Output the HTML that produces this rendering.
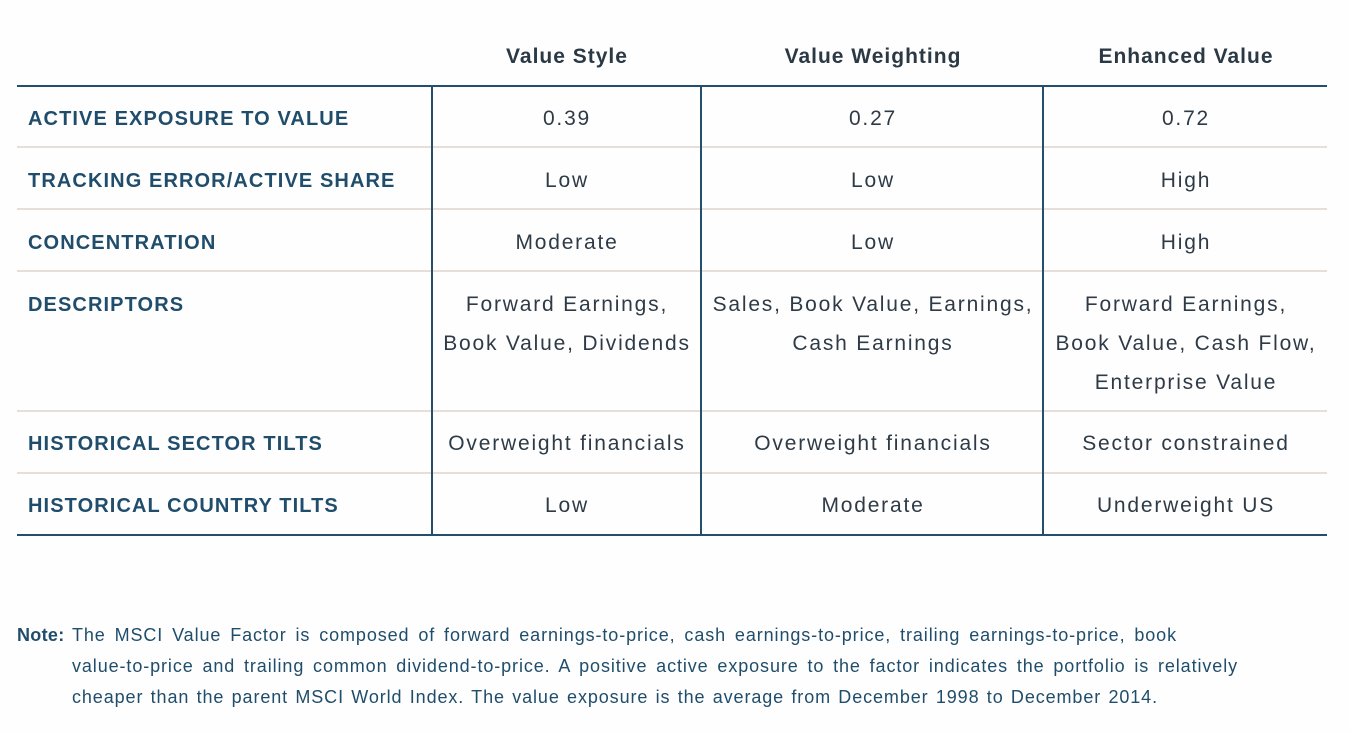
<!DOCTYPE html>
<html><head><meta charset="utf-8">
<style>
html,body{margin:0;padding:0;background:#fefefe;}
body{width:1351px;height:734px;position:relative;overflow:hidden;font-family:"Liberation Sans",Arial,sans-serif;}
.hl{position:absolute;left:17px;width:1310px;height:2px;}
.dark{background:#234f6c;}
.light{background:#e7dfd7;}
.vl{position:absolute;top:86px;height:450px;width:2px;background:#234f6c;}
.lab{position:absolute;left:28px;font-weight:bold;font-size:20px;letter-spacing:1.1px;color:#1f4d6b;line-height:30px;white-space:nowrap;}
.hd{position:absolute;font-weight:bold;font-size:21px;letter-spacing:1px;color:#2b3945;line-height:30px;text-align:center;white-space:nowrap;}
.c{position:absolute;font-size:21px;letter-spacing:1.8px;color:#2e3b47;line-height:39px;text-align:center;white-space:nowrap;}
.c1{left:432px;width:270px;}
.c2{left:702px;width:342px;}
.c3{left:1044px;width:284px;}
.note{position:absolute;font-size:18px;letter-spacing:0.9px;color:#1f4d6b;line-height:31px;white-space:nowrap;text-align:justify;text-align-last:justify;}
</style></head><body>

<div class="hd c1" style="top:42px;">Value Style</div>
<div class="hd c2" style="top:42px;">Value Weighting</div>
<div class="hd c3" style="top:42px;">Enhanced Value</div>

<div class="hl dark" style="top:85px;"></div>
<div class="hl light" style="top:146px;"></div>
<div class="hl light" style="top:208px;"></div>
<div class="hl light" style="top:270px;"></div>
<div class="hl light" style="top:410px;"></div>
<div class="hl light" style="top:472px;"></div>
<div class="hl dark" style="top:534px;"></div>

<div class="vl" style="left:431px;"></div>
<div class="vl" style="left:700px;"></div>
<div class="vl" style="left:1042px;"></div>

<div class="lab" style="top:104px;">ACTIVE EXPOSURE TO VALUE</div>
<div class="lab" style="top:166px;">TRACKING ERROR/ACTIVE SHARE</div>
<div class="lab" style="top:228px;">CONCENTRATION</div>
<div class="lab" style="top:290px;">DESCRIPTORS</div>
<div class="lab" style="top:429px;">HISTORICAL SECTOR TILTS</div>
<div class="lab" style="top:491px;">HISTORICAL COUNTRY TILTS</div>

<div class="c c1" style="top:99px;">0.39</div>
<div class="c c2" style="top:99px;">0.27</div>
<div class="c c3" style="top:99px;">0.72</div>

<div class="c c1" style="top:161px;">Low</div>
<div class="c c2" style="top:161px;">Low</div>
<div class="c c3" style="top:161px;">High</div>

<div class="c c1" style="top:223px;">Moderate</div>
<div class="c c2" style="top:223px;">Low</div>
<div class="c c3" style="top:223px;">High</div>

<div class="c c1" style="top:285px;">Forward Earnings,<br>Book Value, Dividends</div>
<div class="c c2" style="top:285px;">Sales, Book Value, Earnings,<br>Cash Earnings</div>
<div class="c c3" style="top:285px;">Forward Earnings,<br>Book Value, Cash Flow,<br>Enterprise Value</div>

<div class="c c1" style="top:424px;">Overweight financials</div>
<div class="c c2" style="top:424px;">Overweight financials</div>
<div class="c c3" style="top:424px;">Sector constrained</div>

<div class="c c1" style="top:486px;">Low</div>
<div class="c c2" style="top:486px;">Moderate</div>
<div class="c c3" style="top:486px;">Underweight US</div>

<div class="note" style="left:17px;top:620px;font-weight:bold;letter-spacing:0.3px;text-align:left;text-align-last:left;">Note:</div>
<div class="note" style="left:72px;top:620px;width:1105px;">The MSCI Value Factor is composed of forward earnings-to-price, cash earnings-to-price, trailing earnings-to-price, book</div>
<div class="note" style="left:72px;top:651px;width:1166px;">value-to-price and trailing common dividend-to-price. A positive active exposure to the factor indicates the portfolio is relatively</div>
<div class="note" style="left:72px;top:682px;width:1086px;">cheaper than the parent MSCI World Index. The value exposure is the average from December 1998 to December 2014.</div>

</body></html>
